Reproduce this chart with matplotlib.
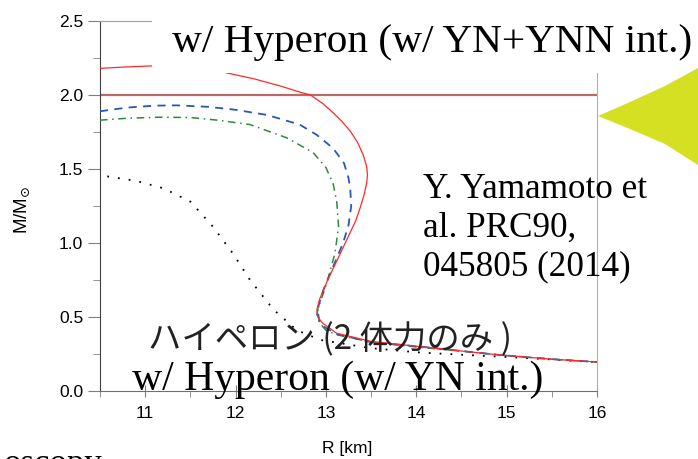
import matplotlib
matplotlib.use('Agg')
import matplotlib.pyplot as plt
from matplotlib.patches import Rectangle, Polygon
from matplotlib.ticker import MultipleLocator

# mass-radius curves (R in km, M in solar masses)
r_ynn = [10.5, 10.8, 11.1, 11.4, 11.7, 11.92, 12.2, 12.5, 12.71, 12.83, 12.97, 13.08,
         13.18, 13.27, 13.35, 13.41, 13.45, 13.46, 13.45, 13.42, 13.38, 13.33, 13.26,
         13.16, 13.02, 12.93, 12.90, 12.91, 12.96, 13.12, 13.5, 14.04, 14.5, 14.93,
         15.5, 16.0]
m_ynn = [2.18, 2.19, 2.197, 2.197, 2.18, 2.147, 2.11, 2.06, 2.02, 2.0, 1.94, 1.88,
         1.82, 1.755, 1.68, 1.60, 1.52, 1.46, 1.40, 1.32, 1.24, 1.15, 1.06,
         0.93, 0.75, 0.62, 0.55, 0.50, 0.46, 0.39, 0.335, 0.30, 0.27, 0.243,
         0.215, 0.196]

r_blue = [10.5, 10.8, 11.1, 11.35, 11.7, 12.0, 12.35, 12.71, 12.9, 13.08, 13.2, 13.25,
          13.27, 13.28, 13.25, 13.19, 13.08, 12.97, 12.92, 12.91, 12.93, 12.99, 13.12,
          13.5, 14.04, 14.5, 14.93, 15.5, 16.0]
m_blue = [1.89, 1.915, 1.928, 1.93, 1.92, 1.90, 1.865, 1.80, 1.73, 1.64, 1.54, 1.44,
          1.36, 1.25, 1.12, 1.0, 0.84, 0.68, 0.58, 0.53, 0.47, 0.43, 0.385,
          0.33, 0.30, 0.27, 0.243, 0.215, 0.196]

r_green = [10.5, 10.8, 11.16, 11.5, 11.8, 12.16, 12.57, 12.86, 13.0, 13.08, 13.12, 13.14,
           13.10, 13.01, 12.92, 12.90, 12.93, 13.0, 13.12, 13.5, 14.04, 14.5, 14.93, 15.5, 16.0]
m_green = [1.83, 1.843, 1.85, 1.848, 1.83, 1.80, 1.71, 1.61, 1.51, 1.40, 1.28, 1.11,
           0.93, 0.73, 0.57, 0.52, 0.46, 0.41, 0.38, 0.33, 0.295, 0.27, 0.243, 0.215, 0.196]

r_hyp = [10.58, 10.9, 11.2, 11.5, 11.75, 11.97, 12.16, 12.42, 12.68, 12.94, 13.49,
         14.04, 14.5, 15.0, 15.5, 16.0]
m_hyp = [1.45, 1.42, 1.37, 1.28, 1.11, 0.93, 0.75, 0.55, 0.41, 0.345, 0.29,
         0.26, 0.245, 0.23, 0.213, 0.195]

m_obs = 2.0

ref_lines = ['Y. Yamamoto et', 'al. PRC90,', '045805 (2014)']

W, H = 698, 459


def fx(px):
    return px / W


def fy(py):
    return 1 - py / H


fig = plt.figure(figsize=(W / 100, H / 100), dpi=100)
ax = fig.add_axes([fx(100), fy(391), fx(597) - fx(100), fy(21) - fy(391)])

ax.axhline(m_obs, color='#b86a6a', lw=1.6, zorder=1)
ax.plot(r_hyp, m_hyp, color='black', lw=1.3, linestyle=(0, (1, 5)), zorder=2)
ax.plot(r_green, m_green, color='#2e8a3a', lw=1.1, linestyle=(0, (5, 3, 1, 3)), zorder=3)
ax.plot(r_blue, m_blue, color='#2858b0', lw=1.3, linestyle=(0, (4.5, 3.5)), zorder=4)
ax.plot(r_ynn, m_ynn, color='#ff2a2a', lw=0.9, zorder=5)

ax.set_xlim(10.5, 16)
ax.set_ylim(0, 2.5)
ax.xaxis.set_major_locator(MultipleLocator(1))
ax.xaxis.set_minor_locator(MultipleLocator(0.5))
ax.yaxis.set_major_locator(MultipleLocator(0.5))
ax.yaxis.set_minor_locator(MultipleLocator(0.25))
ax.yaxis.set_major_formatter('{x:.1f}')

ax.spines['left'].set_color('#404040')
ax.spines['bottom'].set_color('#707070')
ax.spines['right'].set_color('#b0b0b0')
ax.spines['top'].set_color('#a0a0a0')

ax.tick_params(axis='y', which='major', direction='out', length=9, color='#808080',
               labelsize=12.5, pad=3)
ax.tick_params(axis='y', which='minor', direction='out', length=5, color='#808080')
ax.tick_params(axis='x', which='major', direction='inout', length=9, color='#808080',
               labelsize=12.5, pad=6)
ax.tick_params(axis='x', which='minor', direction='out', length=4, color='#808080')
for lab in ax.get_xticklabels() + ax.get_yticklabels():
    lab.set_family('Liberation Sans')

fig.text(fx(22), fy(210), r'M/M$_{\odot}$', rotation=90, ha='center', va='center',
         fontsize=13.5, family='Liberation Sans')
fig.text(fx(347), fy(448), 'R [km]', ha='center', va='center', fontsize=12.5,
         family='Liberation Sans')

# white title box over the top of the frame
fig.add_artist(Rectangle((fx(152), fy(73)), 1 - fx(152), 1 - fy(73),
                         transform=fig.transFigure, facecolor='white',
                         edgecolor='none', zorder=5))
fig.text(fx(172), fy(52), 'w/ Hyperon (w/ YN+YNN int.)', ha='left', va='baseline',
         fontsize=29.7, family='Liberation Serif', zorder=6)

# pointer on the right edge
arrow = [(fx(598), fy(116)), (fx(630), fy(102)), (fx(665), fy(86)), (fx(698), fy(68)),
         (fx(698), fy(165)), (fx(665), fy(144)), (fx(630), fy(129))]
fig.add_artist(Polygon(arrow, closed=True, transform=fig.transFigure,
                       facecolor='#d6e022', edgecolor='none', zorder=6))

for i, line in enumerate(ref_lines):
    fig.text(fx(423), fy(198 + 38.5 * i), line, ha='left', va='baseline',
             fontsize=25.3, family='Liberation Serif', zorder=6)

fig.text(fx(148), fy(349), 'ハイペロン (2 体力のみ )', ha='left', va='baseline',
         fontsize=24, family=['Noto Sans CJK JP', 'DejaVu Sans'], color='#222222', zorder=6)
fig.text(fx(132), fy(390), 'w/ Hyperon (w/ YN int.)', ha='left', va='baseline',
         fontsize=30, family='Liberation Serif', zorder=6)

# next line of the slide, only its top shows
fig.text(fx(4), fy(473), 'oscopy', ha='left', va='baseline', fontsize=25,
         family='Liberation Serif', zorder=6)

fig.savefig('out.png', dpi=100)
